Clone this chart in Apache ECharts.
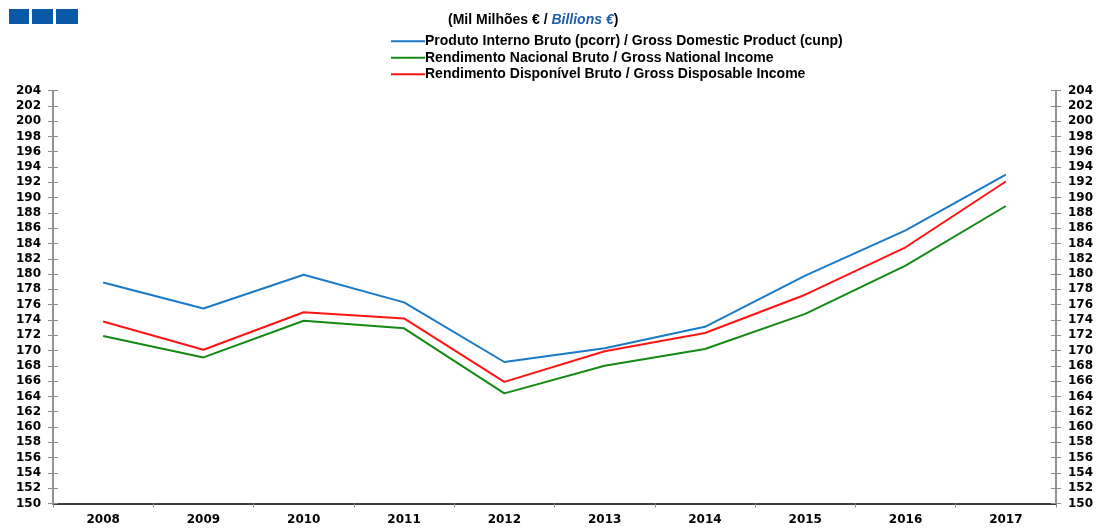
<!DOCTYPE html>
<html>
<head>
<meta charset="utf-8">
<script src="https://cdn.jsdelivr.net/npm/echarts@6/dist/echarts.min.js"></script>
<style>
  html, body { margin: 0; padding: 0; background: #fff; }
  #chart { width: 1099px; height: 528px; }
</style>
</head>
<body>
<div id="chart"></div>
<script>
// Rendimento / PIB 2008-2017 (mil milhões €)
var years = ['2008', '2009', '2010', '2011', '2012', '2013', '2014', '2015', '2016', '2017'];
var pib = [178.9, 175.5, 179.9, 176.3, 168.5, 170.3, 173.1, 179.8, 185.7, 193.0];
var rnb = [171.9, 169.1, 173.9, 172.9, 164.4, 168.0, 170.2, 174.8, 181.1, 188.9];
var rdb = [173.8, 170.1, 175.0, 174.2, 165.9, 169.9, 172.3, 177.3, 183.5, 192.1];
var names = [
    'Produto Interno Bruto (pcorr) / Gross Domestic Product (cunp)',
    'Rendimento Nacional Bruto / Gross National Income',
    'Rendimento Disponível Bruto / Gross Disposable Income'
];
var yMin = 150, yMax = 204, yStep = 2;

var chart = echarts.init(document.getElementById('chart'));

var labelFont = {
    color: '#000',
    fontFamily: 'DejaVu Sans',
    fontWeight: 'bold',
    fontSize: 12
};

function yAx(pos, inside, showLabel) {
    return {
        type: 'value',
        position: pos,
        min: yMin,
        max: yMax,
        interval: yStep,
        axisLine: { show: true, onZero: false, lineStyle: { color: '#8c8c8c', width: 1.5 } },
        axisTick: { show: true, inside: inside, length: 5, lineStyle: { color: '#8c8c8c', width: 1 } },
        axisLabel: Object.assign({ show: showLabel, margin: 12 }, labelFont),
        splitLine: { show: false }
    };
}

chart.setOption({
    backgroundColor: '#fff',
    animation: false,
    color: ['#1a7ac8', '#138a13', '#ff1414'],
    title: {
        left: 443,
        top: 8,
        text: '{a|(Mil Milhões € / }{b|Billions €}{a|)}',
        textStyle: {
            rich: {
                a: { fontFamily: 'Liberation Sans', fontWeight: 'bold', fontSize: 14, color: '#000' },
                b: { fontFamily: 'Liberation Sans', fontWeight: 'bold', fontStyle: 'italic', fontSize: 14, color: '#1f5fa8' }
            }
        }
    },
    legend: {
        orient: 'vertical',
        left: 386,
        top: 28,
        itemWidth: 34,
        itemHeight: 2,
        itemGap: 0,
        icon: 'path://M0,0 L34,0 L34,2 L0,2 Z',
        textStyle: {
            fontFamily: 'Liberation Sans',
            fontWeight: 'bold',
            fontSize: 14,
            lineHeight: 16.5,
            color: '#000',
            padding: [0, 0, 0, -5]
        },
        data: names
    },
    graphic: [
        { type: 'rect', shape: { x: 9, y: 9, width: 20, height: 15 }, style: { fill: '#0a58a6' } },
        { type: 'rect', shape: { x: 32, y: 9, width: 21, height: 15 }, style: { fill: '#0a58a6' } },
        { type: 'rect', shape: { x: 56, y: 9, width: 22, height: 15 }, style: { fill: '#0a58a6' } }
    ],
    grid: {
        left: 53,
        right: 43,
        top: 90.5,
        bottom: 24.5,
        containLabel: false
    },
    xAxis: {
        type: 'category',
        data: years,
        boundaryGap: true,
        axisLine: { lineStyle: { color: '#000', width: 1.5 } },
        axisTick: { show: true, length: 4, lineStyle: { color: '#8c8c8c' } },
        axisLabel: Object.assign({ margin: 10 }, labelFont)
    },
    yAxis: [
        yAx('left', false, true),
        yAx('left', true, false),
        yAx('right', false, true),
        yAx('right', true, false)
    ],
    series: [
        { name: names[0], type: 'line', data: pib, symbol: 'none', lineStyle: { width: 2 } },
        { name: names[1], type: 'line', data: rnb, symbol: 'none', lineStyle: { width: 2 } },
        { name: names[2], type: 'line', data: rdb, symbol: 'none', lineStyle: { width: 2 } }
    ]
});
</script>
</body>
</html>
